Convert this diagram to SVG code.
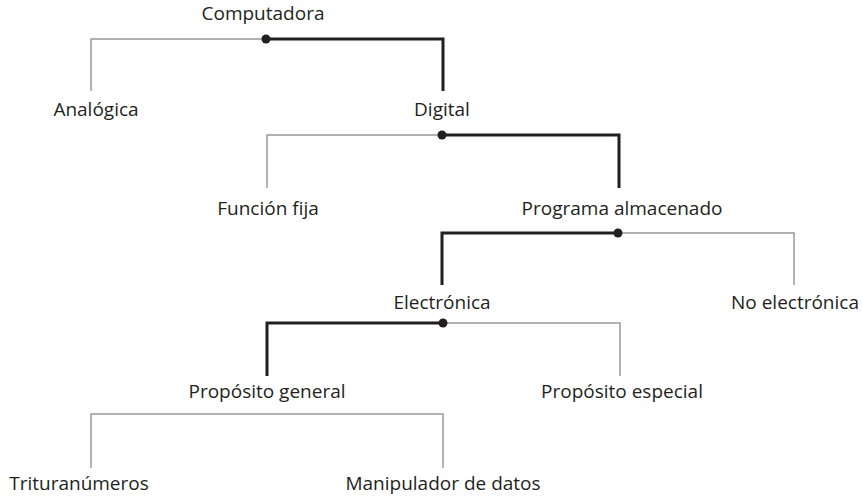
<svg xmlns="http://www.w3.org/2000/svg" width="863" height="496" viewBox="0 0 863 496">
<style>
text{font-family:"Open Sans","Noto Sans",sans-serif;font-size:19px;fill:#231f20;text-anchor:middle}
.thin{fill:none;stroke:#9a9a9a;stroke-width:1.5}
.thick{fill:none;stroke:#231f20;stroke-width:3}
.dot{fill:#231f20}
</style>
<rect width="863" height="496" fill="#fff"/>
<g id="connectors">
<polyline class="thin" points="91,91 91,39 266,39"/>
<polyline class="thick" points="266,39 443,39 443,91"/>
<circle class="dot" cx="266" cy="39" r="4.5"/>
<polyline class="thin" points="267,188 267,135 442,135"/>
<polyline class="thick" points="442,135 619,135 619,188"/>
<circle class="dot" cx="442" cy="135" r="4.5"/>
<polyline class="thick" points="442,285 442,233 618,233"/>
<polyline class="thin" points="618,233 794,233 794,285"/>
<circle class="dot" cx="618" cy="233" r="4.5"/>
<polyline class="thick" points="267,376 267,323 443,323"/>
<polyline class="thin" points="443,323 620,323 620,376"/>
<circle class="dot" cx="443" cy="323" r="4.5"/>
<polyline class="thin" points="91,468 91,414 443,414 443,468"/>
</g>
<g id="computadora"><text x="263" y="20">Computadora</text></g>
<g id="analogica"><text x="96" y="116">Analógica</text></g>
<g id="digital"><text x="442" y="116">Digital</text></g>
<g id="funcion-fija"><text x="268" y="215">Función fija</text></g>
<g id="programa-almacenado"><text x="622" y="215">Programa almacenado</text></g>
<g id="electronica"><text x="442" y="309">Electrónica</text></g>
<g id="no-electronica"><text x="795" y="309">No electrónica</text></g>
<g id="proposito-general"><text x="267" y="398">Propósito general</text></g>
<g id="proposito-especial"><text x="622" y="398">Propósito especial</text></g>
<g id="trituranumeros"><text x="79" y="490">Trituranúmeros</text></g>
<g id="manipulador-de-datos"><text x="443" y="490">Manipulador de datos</text></g>
</svg>
